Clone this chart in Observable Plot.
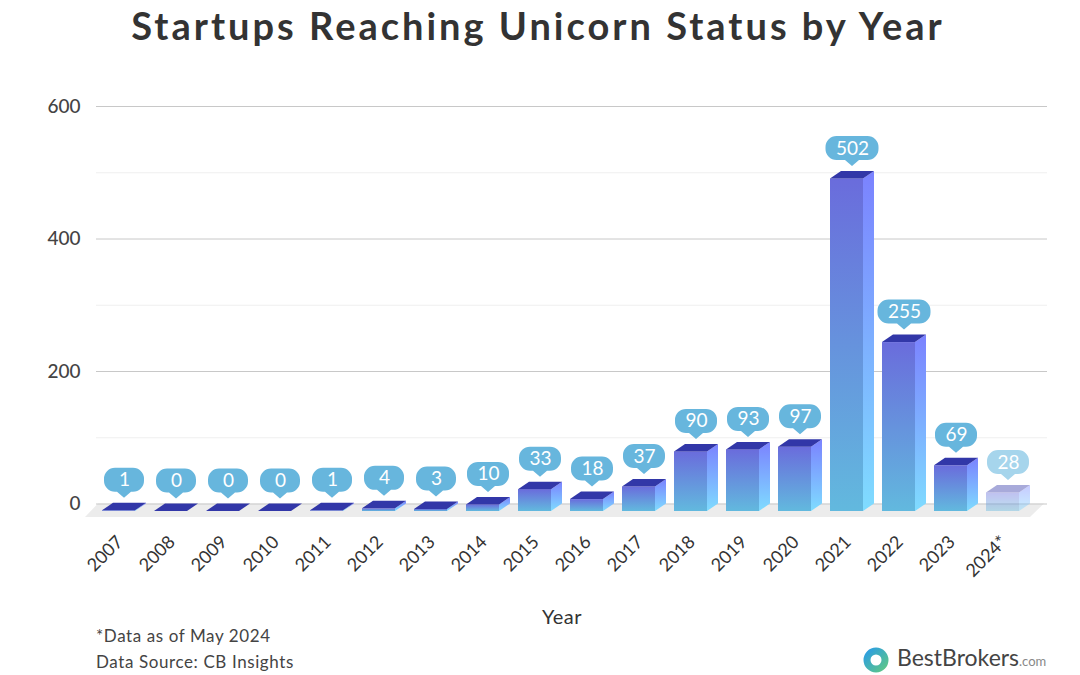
<!DOCTYPE html>
<html>
<head>
<meta charset="utf-8">
<script src="https://cdn.jsdelivr.net/npm/d3@7"></script>
<script src="https://cdn.jsdelivr.net/npm/@observablehq/plot@0.6"></script>
<style>
  body { margin: 0; background: #fff; font-family: Lato, "Noto Sans", sans-serif; }
  #wrap { position: relative; width: 1080px; height: 675px; overflow: hidden; background: #fff; }
  #chart { position: absolute; left: 0; top: 0; }
  #title { position: absolute; left: 0; top: 0px; width: 1076px; text-align: center;
           font-size: 38px; font-weight: 700; color: #333; letter-spacing: 3px; line-height: 50px; }
  #xlabel { position: absolute; left: 512px; width: 100px; top: 604px; text-align: center;
            font-size: 20px; color: #333; letter-spacing: 0.5px; }
  .note { position: absolute; left: 96px; font-size: 17px; color: #444; letter-spacing: 0.6px; }
  #logo { position: absolute; left: 856px; top: 626px; }
</style>
</head>
<body>
<div id="wrap">
  <div id="chart"></div>
  <div id="title">Startups Reaching Unicorn Status by Year</div>
  <div id="xlabel">Year</div>
  <div class="note" style="top:625px">*Data as of May 2024</div>
  <div class="note" style="top:651px">Data Source: CB Insights</div>
  <svg id="logo" width="220" height="49" viewBox="0 0 220 49">
    <defs>
      <linearGradient id="lgStem" x1="0" y1="0" x2="0" y2="1">
        <stop offset="0" stop-color="#f7a21b"/><stop offset="1" stop-color="#f6c342"/>
      </linearGradient>
      <linearGradient id="lgBowl" x1="0" y1="0" x2="1" y2="1">
        <stop offset="0" stop-color="#2d9fe0"/><stop offset="1" stop-color="#5cc58b"/>
      </linearGradient>
    </defs>
    <circle cx="20" cy="34" r="9" stroke="url(#lgBowl)" stroke-width="7" fill="none"/>
    <path d="M10 7 V31" stroke="url(#lgStem)" stroke-width="7" stroke-linecap="round" fill="none"/>
    <text x="41" y="40" font-family="Lato, sans-serif" font-size="23" fill="#444">BestBrokers<tspan font-size="13" fill="#888">.com</tspan></text>
  </svg>
</div>
<script>
// ---- data ----
const years = ["2007","2008","2009","2010","2011","2012","2013","2014","2015","2016","2017","2018","2019","2020","2021","2022","2023","2024*"];
const counts = [1, 0, 0, 0, 1, 4, 3, 10, 33, 18, 37, 90, 93, 97, 502, 255, 69, 28];
const yTicks = [0, 200, 400, 600];
const yMinorTicks = [100, 300, 500];

const data = years.map((year, i) => ({year, count: counts[i], partial: year.endsWith("*")}));

// ---- 3D geometry (depth offsets) ----
const DX = 11, DY = 7.5;
const NS = "http://www.w3.org/2000/svg";
function el(tag, attrs) {
  const e = document.createElementNS(NS, tag);
  for (const k in attrs) e.setAttribute(k, attrs[k]);
  return e;
}
function bwOf(X) { return typeof X.bandwidth === "function" ? X.bandwidth() : X.bandwidth; }

function floorMark(index, scales) {
  const X = scales.x, Y = scales.y, bw = bwOf(X);
  const x0 = X(years[0]), xn = X(years[years.length - 1]) + bw;
  const yz = Y(0);
  const pts = [[x0 - 4, yz], [xn + DX + 14, yz], [xn + DX, yz + 13.5], [x0 - 17, yz + 13.5]];
  return el("polygon", {points: pts.map(p => p.join(",")).join(" "), fill: "#ececec"});
}

function bars3d(index, scales) {
  const X = scales.x, Y = scales.y, bw = bwOf(X);
  const g = el("g", {});
  const defs = el("defs", {});
  const grads = [
    ["gFront", "#6a6cdc", "#62b9de"],
    ["gSide", "#7b82ff", "#7fdcff"]
  ];
  for (const [id, c0, c1] of grads) {
    const lg = el("linearGradient", {id, x1: 0, y1: 0, x2: 0, y2: 1});
    lg.appendChild(el("stop", {offset: 0, "stop-color": c0}));
    lg.appendChild(el("stop", {offset: 1, "stop-color": c1}));
    defs.appendChild(lg);
  }
  g.appendChild(defs);
  for (const i of index) {
    const d = data[i];
    const xf = X(d.year), xr = xf + bw;
    const yb = Y(0) + DY, yt = Y(d.count) + DY;
    const bg = el("g", d.partial ? {opacity: 0.42} : {});
    if (yb - yt > 0.01) {
      bg.appendChild(el("rect", {x: xf, y: yt, width: bw, height: yb - yt, fill: "url(#gFront)"}));
    }
    const side = [[xr, yb], [xr + DX, yb - DY], [xr + DX, yt - DY], [xr, yt]];
    bg.appendChild(el("polygon", {points: side.map(p => p.join(",")).join(" "), fill: "url(#gSide)"}));
    const top = [[xf, yt], [xf + DX, yt - DY], [xr + DX, yt - DY], [xr, yt]];
    bg.appendChild(el("polygon", {points: top.map(p => p.join(",")).join(" "), fill: "#3237a8"}));
    g.appendChild(bg);
  }
  return g;
}

function bubbles(index, scales) {
  const X = scales.x, Y = scales.y, bw = bwOf(X);
  const g = el("g", {});
  for (const i of index) {
    const d = data[i];
    const cx = X(d.year) + bw / 2 + DX / 2;
    const tip = Y(d.count) - 5;
    const B = tip - 6, T = tip - 30;
    const w = Math.max(40, 11 * String(d.count).length + 20);
    const L = cx - w / 2, R = cx + w / 2, r = 11;
    const p = `M${L + r},${T} H${R - r} A${r},${r} 0 0 1 ${R},${T + r} V${B - r} A${r},${r} 0 0 1 ${R - r},${B} ` +
              `H${cx + 7} L${cx},${tip} L${cx - 7},${B} H${L + r} A${r},${r} 0 0 1 ${L},${B - r} V${T + r} A${r},${r} 0 0 1 ${L + r},${T} Z`;
    g.appendChild(el("path", {d: p, fill: d.partial ? "#a6d5ec" : "#67b6dd"}));
  }
  return g;
}

const chart = Plot.plot({
  width: 1080,
  height: 675,
  marginTop: 106,
  marginBottom: 675 - 503.5,
  marginLeft: 80,
  marginRight: 39,
  style: {fontFamily: "Lato, 'Noto Sans', sans-serif", background: "transparent", overflow: "visible"},
  x: {domain: years, padding: 0.375},
  y: {domain: [0, 600]},
  marks: [
    floorMark,
    Plot.ruleY(yMinorTicks, {stroke: "#efefef", strokeWidth: 1, insetLeft: 16, insetRight: -6}),
    Plot.ruleY(yTicks, {stroke: "#c8c8c8", strokeWidth: 1, insetLeft: 16, insetRight: -6}),
    Plot.axisY({ticks: yTicks, tickSize: 0, tickPadding: 0, fontSize: 19, fill: "#444", fontWeight: 500, label: null, tickFormat: d => String(d)}),
    Plot.axisX({tickRotate: -45, tickSize: 0, tickPadding: 35, dx: 1, fontSize: 18, fill: "#333", label: null}),
    Plot.barY(data, {x: "year", y: "count", render: bars3d}),
    Plot.dot(data, {x: "year", y: "count", render: bubbles}),
    Plot.text(data, {x: "year", y: "count", text: d => String(d.count), dx: DX / 2, dy: -23, fill: "white", fontSize: 19})
  ]
});
document.getElementById("chart").appendChild(chart);
</script>
</body>
</html>
